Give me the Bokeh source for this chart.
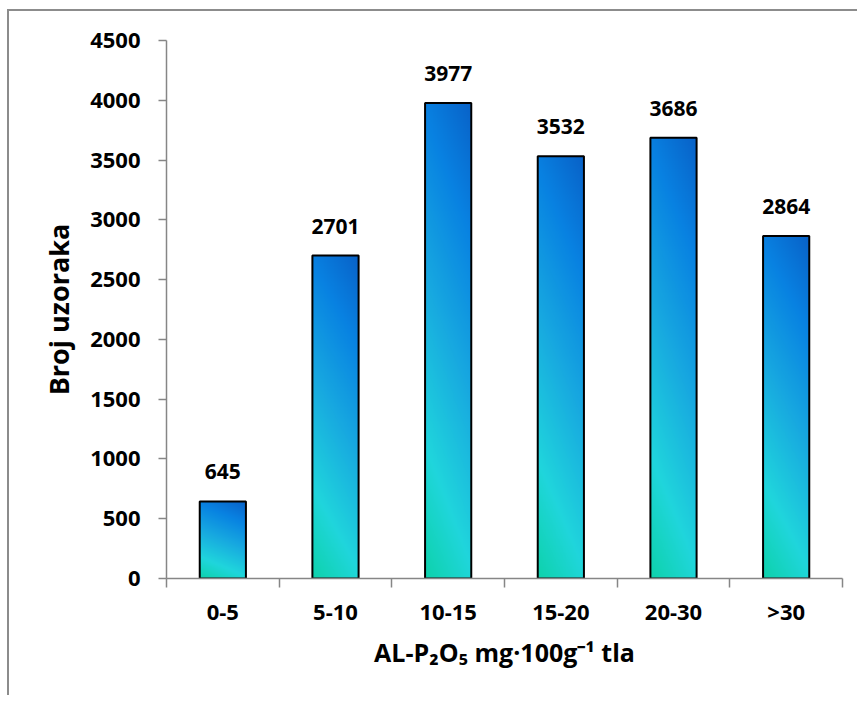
import numpy as np
from bokeh.plotting import figure
from bokeh.layouts import row, column
from bokeh.models import Range1d, FixedTicker, CustomJSTickFormatter, Spacer
from bokeh.embed import file_html
from bokeh.resources import INLINE
from bokeh.core.properties import value

# ---- data ----
categories = ["0-5", "5-10", "10-15", "15-20", "20-30", ">30"]
counts = [645, 2701, 3977, 3532, 3686, 2864]
y_ticks = [0, 500, 1000, 1500, 2000, 2500, 3000, 3500, 4000, 4500]
x_title = "AL-P\u2082O\u2085 mg\u00b7100g\u207b\u00b9 tla"
y_title = "Broj uzoraka"

# ---- style ----
FONT = "Open Sans"
AXIS_GRAY = "#868686"
FRAME_GRAY = "#8c8c8c"
BAR_W = 0.41

W, H = 848, 684
p = figure(width=W, height=H, output_backend="svg", toolbar_location=None,
           x_range=Range1d(0, len(categories)), y_range=Range1d(0, y_ticks[-1]),
           min_border_left=157, min_border_right=W - 833, min_border_top=29,
           min_border_bottom=H - 567)
p.background_fill_color = "white"
p.border_fill_color = "white"
p.outline_line_color = None
p.xgrid.visible = False
p.ygrid.visible = False

centers = [i + 0.5 for i in range(len(categories))]
lefts = [c - BAR_W / 2 for c in centers]


def gradient_image(rows=240, cols=60):
    u = np.linspace(0, 1, rows)[:, None]
    v = np.linspace(0, 1, cols)[None, :]
    s = 0.8 * u + 0.2 * v
    stops = [0.0, 0.22, 0.5, 0.78, 1.0]
    r = [14, 32, 24, 8, 8]
    g = [210, 214, 170, 130, 98]
    b = [172, 220, 224, 226, 200]
    img = np.empty((rows, cols), dtype=np.uint32)
    view = img.view(dtype=np.uint8).reshape((rows, cols, 4))
    view[:, :, 0] = np.interp(s, stops, r).astype(np.uint8)
    view[:, :, 1] = np.interp(s, stops, g).astype(np.uint8)
    view[:, :, 2] = np.interp(s, stops, b).astype(np.uint8)
    view[:, :, 3] = 255
    return img


grad = gradient_image()
p.image_rgba(image=[grad] * len(counts), x=lefts, y=[0] * len(counts),
             dw=[BAR_W] * len(counts), dh=counts)
p.vbar(x=centers, top=counts, width=BAR_W, fill_alpha=0,
       line_color="black", line_width=2)

p.text(x=centers, y=counts, text=[str(c) for c in counts],
       text_align="center", text_baseline="bottom", y_offset=-22,
       text_font=value(FONT), text_font_style="bold", text_font_size="21px",
       text_color="black")

# axes
for ax in (p.xaxis[0], p.yaxis[0]):
    ax.axis_line_color = AXIS_GRAY
    ax.axis_line_width = 1.5
    ax.major_label_text_font = FONT
    ax.major_label_text_font_style = "bold"
    ax.major_label_text_font_size = "22px"
    ax.major_label_text_color = "black"
    ax.axis_label_text_font = FONT
    ax.axis_label_text_font_style = "bold"
    ax.axis_label_text_color = "black"

p.yaxis.ticker = FixedTicker(ticks=y_ticks)
p.yaxis.major_tick_out = 8
p.yaxis.major_tick_in = 0
p.yaxis.major_tick_line_color = AXIS_GRAY
p.yaxis.major_tick_line_width = 1.5
p.yaxis.minor_tick_line_color = None
p.yaxis.major_label_standoff = 18
p.yaxis.axis_label = y_title
p.yaxis.axis_label_text_font_size = "27px"
p.yaxis.axis_label_standoff = 10

p.xaxis.ticker = FixedTicker(ticks=centers, minor_ticks=list(range(len(categories) + 1)))
p.xaxis.formatter = CustomJSTickFormatter(args=dict(cats=categories),
                                          code="return cats[Math.floor(tick)] || '';")
p.xaxis.major_tick_line_color = None
p.xaxis.major_tick_out = 8
p.xaxis.major_tick_in = 0
p.xaxis.minor_tick_out = 9
p.xaxis.minor_tick_in = 0
p.xaxis.minor_tick_line_color = AXIS_GRAY
p.xaxis.minor_tick_line_width = 1.5
p.xaxis.major_label_standoff = 8
p.xaxis.axis_label = x_title
p.xaxis.axis_label_text_font_size = "25px"
p.xaxis.axis_label_standoff = 6

# Excel-style chart-area frame: only its left and top edges fall inside the window
top_edge = Spacer(width=W + 2, height=2, styles={"background-color": FRAME_GRAY})
left_edge = Spacer(width=2, height=H, styles={"background-color": FRAME_GRAY})
layout = row(
    Spacer(width=7, height=H + 11),
    column(Spacer(width=W + 2, height=9), top_edge, row(left_edge, p)),
)

open("out.html", "w").write(file_html(layout, INLINE))
